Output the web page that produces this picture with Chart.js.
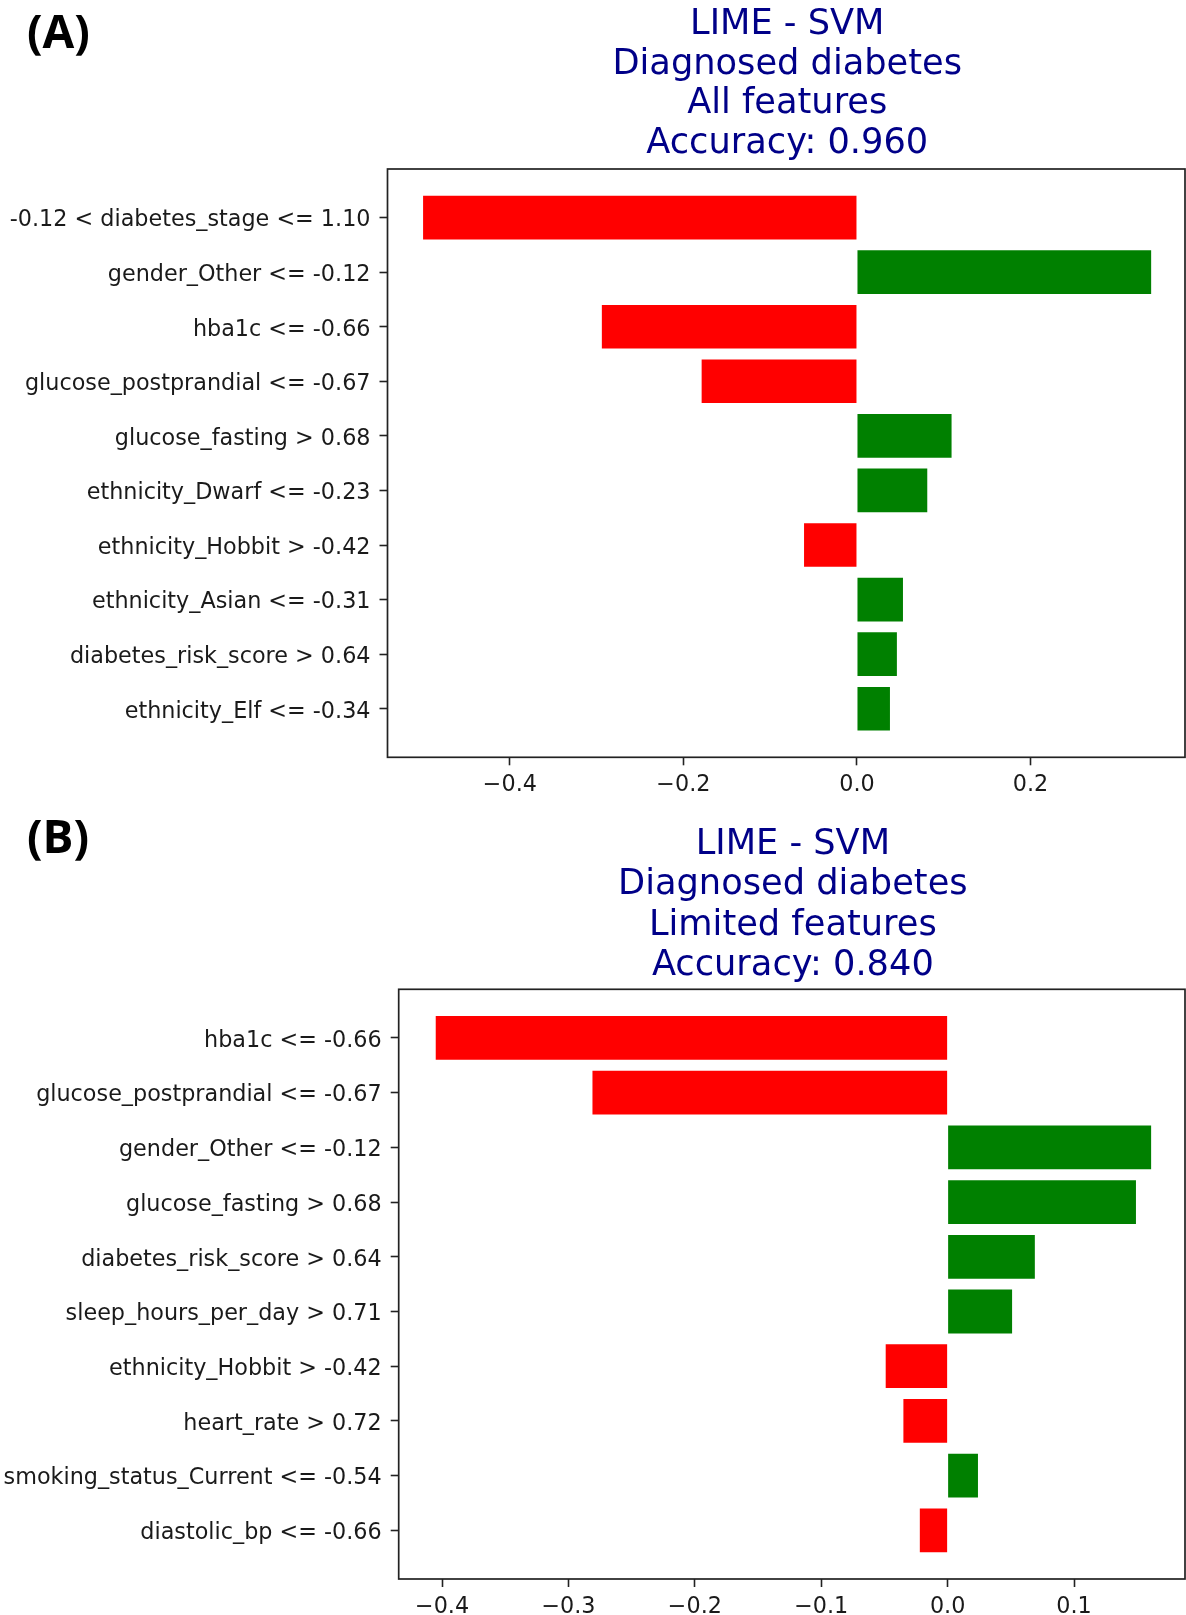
<!DOCTYPE html>
<html>
<head>
    <title>LIME - SVM</title>
    <script src="https://cdn.jsdelivr.net/npm/chart.js@4.4.0/dist/chart.umd.min.js"></script>
    <style>
        body { margin: 0; background: #fff; }
        canvas { position: absolute; left: 0; }
    </style>
</head>
<body>
    <canvas id="chartA" width="1186" height="800" style="top:0"></canvas>
    <canvas id="chartB" width="1186" height="815" style="top:800px"></canvas>

    <script>
        // panel A: all features
        var labelsA = [
            '-0.12 < diabetes_stage <= 1.10',
            'gender_Other <= -0.12',
            'hba1c <= -0.66',
            'glucose_postprandial <= -0.67',
            'glucose_fasting > 0.68',
            'ethnicity_Dwarf <= -0.23',
            'ethnicity_Hobbit > -0.42',
            'ethnicity_Asian <= -0.31',
            'diabetes_risk_score > 0.64',
            'ethnicity_Elf <= -0.34'
        ];
        var valuesA = [-0.500, 0.339, -0.294, -0.179, 0.109, 0.081, -0.061, 0.053, 0.046, 0.038];
        var titleA = ['LIME - SVM', 'Diagnosed diabetes', 'All features', 'Accuracy: 0.960'];
        var ticksA = [-0.4, -0.2, 0.0, 0.2];
        var tickLabelsA = ['\u22120.4', '\u22120.2', '0.0', '0.2'];

        // panel B: limited features
        var labelsB = [
            'hba1c <= -0.66',
            'glucose_postprandial <= -0.67',
            'gender_Other <= -0.12',
            'glucose_fasting > 0.68',
            'diabetes_risk_score > 0.64',
            'sleep_hours_per_day > 0.71',
            'ethnicity_Hobbit > -0.42',
            'heart_rate > 0.72',
            'smoking_status_Current <= -0.54',
            'diastolic_bp <= -0.66'
        ];
        var valuesB = [-0.405, -0.281, 0.161, 0.149, 0.069, 0.051, -0.049, -0.035, 0.024, -0.022];
        var titleB = ['LIME - SVM', 'Diagnosed diabetes', 'Limited features', 'Accuracy: 0.840'];
        var ticksB = [-0.4, -0.3, -0.2, -0.1, 0.0, 0.1];
        var tickLabelsB = ['\u22120.4', '\u22120.3', '\u22120.2', '\u22120.1', '0.0', '0.1'];

        var tickFont = { family: 'DejaVu Sans', size: 22.3 };
        var ink = '#1a1a1a';

        // frame, panel letter and title
        var decor = {
            id: 'decor',
            afterDraw: function(chart, args, opts) {
                var ctx = chart.ctx, a = chart.chartArea;
                ctx.save();
                ctx.strokeStyle = '#222';
                ctx.lineWidth = 1.7;
                ctx.strokeRect(a.left, a.top, a.right - a.left, a.bottom - a.top);

                ctx.fillStyle = '#000';
                ctx.font = 'bold 46px "Open Sans"';
                ctx.textAlign = 'left';
                ctx.textBaseline = 'alphabetic';
                ctx.fillText(opts.letter, 27, opts.letterY);

                ctx.fillStyle = '#000088';
                ctx.font = '35.2px "DejaVu Sans"';
                ctx.textAlign = 'center';
                var cx = (a.left + a.right + 2) / 2;
                var n = opts.lines.length;
                opts.lines.forEach(function(t, i) {
                    ctx.fillText(t, cx, a.top - opts.gap - (n - 1 - i) * opts.step);
                });
                ctx.restore();
            }
        };

        function makeChart(id, labels, values, ticks, tickLabels, xMin, xMax, yAxisW, xAxisH, padTop, deco) {
            var ctx = document.getElementById(id).getContext('2d');
            return new Chart(ctx, {
                type: 'bar',
                data: {
                    datasets: [{
                        data: values.map(function(v, i) { return { x: v, y: i }; }),
                        backgroundColor: values.map(function(v) { return v < 0 ? '#ff0000' : '#008000'; }),
                        borderWidth: 0,
                        categoryPercentage: 0.8,
                        barPercentage: 1.0
                    }]
                },
                options: {
                    indexAxis: 'y',
                    responsive: false,
                    animation: false,
                    layout: { padding: { top: padTop, right: 1, bottom: 0, left: 0 } },
                    plugins: {
                        legend: { display: false },
                        tooltip: { enabled: false },
                        decor: deco
                    },
                    scales: {
                        x: {
                            type: 'linear',
                            min: xMin,
                            max: xMax,
                            offset: false,
                            afterFit: function(s) { s.height = xAxisH; },
                            afterBuildTicks: function(s) {
                                s.ticks = ticks.map(function(v) { return { value: v }; });
                            },
                            grid: { offset: false, drawOnChartArea: false, drawTicks: true, tickLength: 8, tickColor: '#222', tickWidth: 1.6 },
                            border: { display: false },
                            ticks: {
                                font: tickFont,
                                color: ink,
                                padding: 7,
                                maxRotation: 0,
                                callback: function(v, i) { return tickLabels[i]; }
                            }
                        },
                        y: {
                            type: 'linear',
                            reverse: true,
                            min: -0.89,
                            max: 9.89,
                            offset: false,
                            afterFit: function(s) { s.width = yAxisW; },
                            afterBuildTicks: function(s) {
                                s.ticks = labels.map(function(l, i) { return { value: i }; });
                            },
                            grid: { offset: false, drawOnChartArea: false, drawTicks: true, tickLength: 8, tickColor: '#222', tickWidth: 1.6 },
                            border: { display: false },
                            ticks: {
                                font: tickFont,
                                color: ink,
                                padding: 9,
                                labelOffset: 3,
                                autoSkip: false,
                                callback: function(v) { return labels[v]; }
                            }
                        }
                    }
                },
                plugins: [decor]
            });
        }

        makeChart('chartA', labelsA, valuesA, ticksA, tickLabelsA, -0.541, 0.378, 387.5, 42.7, 169,
            { letter: '(A)', letterY: 48.3, lines: titleA, gap: 16.3, step: 39.5 });
        makeChart('chartB', labelsB, valuesB, ticksB, tickLabelsB, -0.4343, 0.1878, 398.7, 36, 189.3,
            { letter: '(B)', letterY: 53.3, lines: titleB, gap: 14.3, step: 40.3 });
    </script>
</body>
</html>
